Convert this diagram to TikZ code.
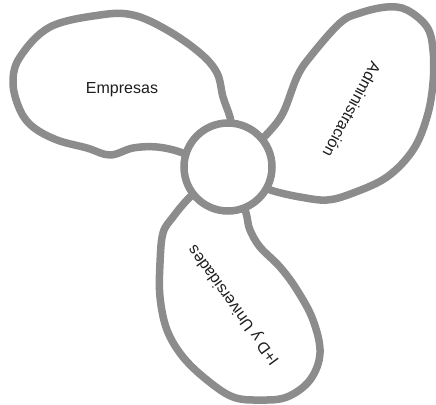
\documentclass[tikz,border=0pt]{standalone}
\usepackage{fontspec}
\setmainfont{Liberation Sans}
\definecolor{petalgray}{RGB}{140,140,140}
\definecolor{textgray}{RGB}{30,30,30}
\tikzset{
  petal/.style={draw=petalgray, line width=7.5pt, line join=round, fill=white},
  hubstyle/.style={circle, draw=petalgray, line width=7.5pt, fill=white, minimum size=88pt, inner sep=0pt},
  label/.style={font=\fontsize{16}{18}\selectfont, text=textgray, inner sep=0pt}
}
\begin{document}
\begin{tikzpicture}[x=1pt,y=-1pt]
\useasboundingbox (0,0) rectangle (436,404);
% Empresas petal
\draw[petal] plot[smooth, tension=0.6] coordinates {(232,130) (230,117) (223,97) (217,73) (200,53) (167,30) (133,15) (100,15) (50,27) (20,57) (13,83) (20,110) (33,127) (57,140) (87,148) (110,155) (133,148) (157,147) (180,152) (195,160)} -- cycle;
% Administracion petal
\draw[petal] plot[smooth, tension=0.6] coordinates {(258,142) (268,133) (283,113) (297,77) (310,57) (340,23) (360,13) (387,7) (407,10) (427,27) (433,50) (433,83) (427,117) (413,150) (387,177) (353,193) (327,200) (300,197) (277,192) (265,188)} -- cycle;
% I+D petal
\draw[petal] plot[smooth, tension=0.6] coordinates {(198,190) (187,200) (173,217) (163,233) (160,263) (160,297) (167,330) (183,357) (207,380) (233,397) (260,400) (287,397) (310,380) (320,353) (313,320) (297,290) (280,267) (260,247) (250,230) (247,217) (244,205)} -- cycle;
% hub
\node[hubstyle] (hub) at (228,167) {};
% labels
\node[label] (emp) at (122,90) {Empresas};
\node[label, rotate=-118] (adm) at (352,110) {Administración};
\node[label, rotate=126] (imd) at (234,305) {I+D y Universidades};
\end{tikzpicture}
\end{document}
